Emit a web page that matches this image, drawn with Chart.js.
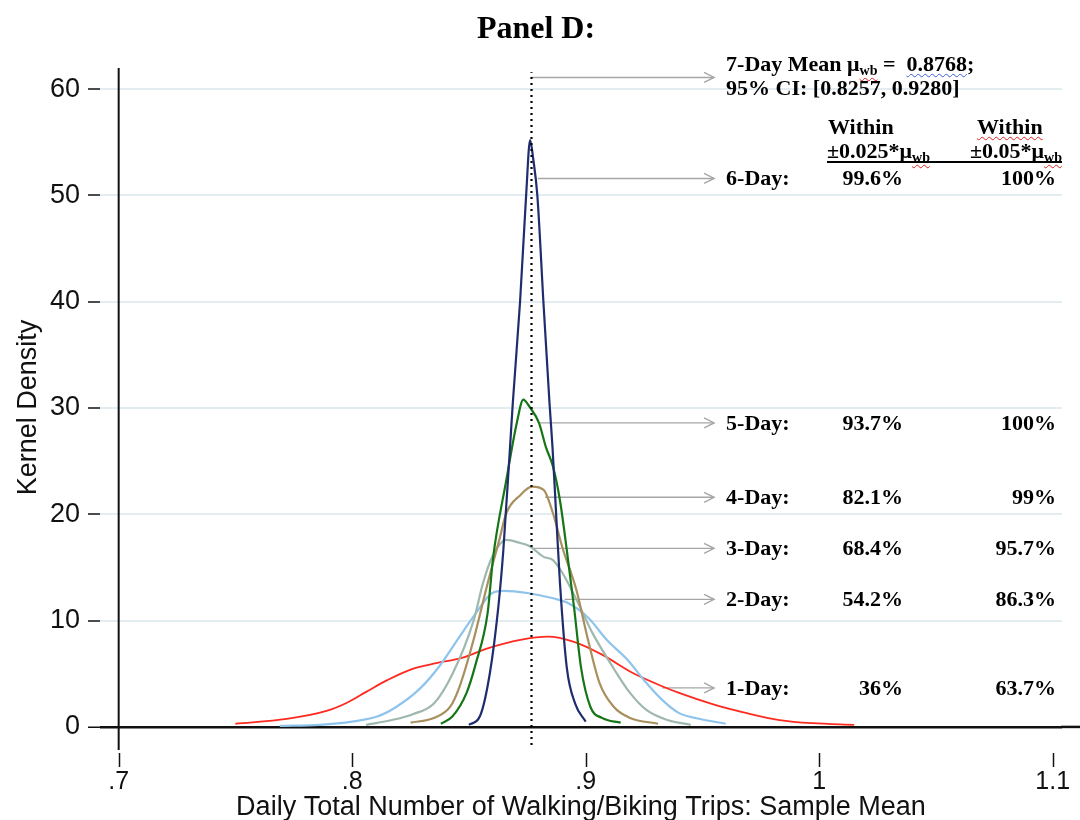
<!DOCTYPE html>
<html>
<head>
<meta charset="utf-8">
<script src="https://cdn.jsdelivr.net/npm/chart.js@4.4.0/dist/chart.umd.min.js"></script>
<style>
    html, body { margin: 0; padding: 0; background: #fff; }
    #wrap { position: relative; width: 1080px; height: 820px; }
    .t {
        position: absolute;
        font-family: "Liberation Serif", "Times New Roman", serif;
        font-weight: bold;
        font-size: 22px;
        color: #000;
        white-space: nowrap;
        line-height: 1;
        transform: translateY(-50%);
    }
    .r { transform: translate(-100%, -50%); }
    .title { font-size: 32px; transform: translate(-50%, -50%); }
    sub { font-size: 14px; vertical-align: -4px; line-height: 0; }
    .sp { text-decoration: underline wavy #e02020; text-decoration-thickness: 1px; text-underline-offset: 2px; }
    .sb { text-decoration: underline wavy #3a5ae0; text-decoration-thickness: 1px; text-underline-offset: 2px; }
    #rule { position: absolute; left: 827px; top: 161px; width: 235px; border-top: 2px solid #000; }
</style>
</head>
<body>
<div id="wrap">
    <canvas id="kd" width="1080" height="820"></canvas>
    <div class="t title" style="left:536px; top:27px;">Panel D:</div>
    <div class="t" id="meanLine1">7-Day Mean μ<sub class="sp">wb</sub> =&nbsp; <span class="sb">0.8768</span>;</div>
    <div class="t" id="meanLine2">95% CI: [0.8257, 0.9280]</div>
    <div class="t" style="left:828px; top:127px;">Within</div>
    <div class="t" style="left:977px; top:127px;"><span class="sp">Within</span></div>
    <div class="t" style="left:827px; top:151px;">±0.025*μ<sub class="sp">wb</sub></div>
    <div class="t" style="left:970px; top:151px;">±0.05*μ<sub class="sp">wb</sub></div>
    <div id="rule"></div>
    <div id="rows"></div>
</div>
<script>
// x grid / tick labels (Stata style, no leading zero)
const xTickValues = [0.7, 0.8, 0.9, 1.0, 1.1];
const xTickLabels = ['.7', '.8', '.9', '1', '1.1'];
const yTickValues = [0, 10, 20, 30, 40, 50, 60];

// kernel density curves
const day1X = [0.750, 0.772, 0.789, 0.798, 0.806, 0.815, 0.825, 0.836, 0.847, 0.858, 0.872, 0.884, 0.895, 0.907, 0.920, 0.932, 0.940, 0.955, 0.969, 0.983, 0.997, 1.015];
const day1Y = [0.3, 0.75, 1.5, 2.3, 3.3, 4.4, 5.4, 6.0, 6.5, 7.4, 8.2, 8.5, 8.0, 6.8, 5.1, 3.9, 3.2, 2.1, 1.3, 0.65, 0.35, 0.2];

const day2X = [0.769, 0.786, 0.800, 0.811, 0.819, 0.829, 0.838, 0.846, 0.853, 0.860, 0.865, 0.875, 0.886, 0.892, 0.901, 0.909, 0.918, 0.925, 0.933, 0.940, 0.949, 0.960];
const day2Y = [0.1, 0.2, 0.5, 1.0, 1.9, 3.6, 5.9, 8.5, 10.7, 12.6, 12.8, 12.6, 12.1, 11.7, 10.3, 8.2, 6.3, 4.4, 2.5, 1.3, 0.75, 0.3];

const day3X = [0.806, 0.817, 0.826, 0.835, 0.843, 0.852, 0.856, 0.860, 0.866, 0.872, 0.876, 0.882, 0.886, 0.890, 0.896, 0.903, 0.912, 0.919, 0.926, 0.935, 0.945];
const day3Y = [0.2, 0.65, 1.2, 2.2, 5.0, 10.0, 13.5, 16.0, 17.6, 17.3, 17.0, 16.0, 15.7, 14.5, 12.0, 8.8, 5.5, 3.2, 1.6, 0.65, 0.2];

const day4X = [0.825, 0.835, 0.842, 0.846, 0.852, 0.858, 0.863, 0.866, 0.872, 0.877, 0.882, 0.886, 0.890, 0.896, 0.901, 0.906, 0.912, 0.919, 0.931];
const day4Y = [0.4, 0.85, 1.9, 3.8, 8.2, 13.5, 17.6, 20.1, 21.8, 22.6, 22.3, 20.1, 16.9, 12.9, 8.2, 4.1, 1.9, 0.85, 0.3];

const day5X = [0.838, 0.843, 0.849, 0.853, 0.858, 0.8604, 0.866, 0.8705, 0.8733, 0.876, 0.880, 0.883, 0.886, 0.889, 0.892, 0.895, 0.898, 0.902, 0.907, 0.915];
const day5Y = [0.3, 1.0, 3.2, 6.0, 10.7, 16.0, 23.2, 28.6, 30.8, 30.1, 28.6, 26.3, 24.5, 21.3, 16.5, 11.3, 5.6, 1.9, 0.85, 0.4];

const day6X = [0.850, 0.8547, 0.859, 0.8626, 0.8647, 0.8676, 0.8688, 0.8719, 0.8745, 0.8762, 0.8775, 0.8793, 0.8819, 0.8845, 0.8858, 0.8876, 0.889, 0.8919, 0.8955, 0.900];
const day6Y = [0.2, 1.0, 5.1, 11.3, 16.5, 26.3, 30.5, 40.0, 50.0, 55.2, 53.5, 50.0, 40.0, 30.5, 26.3, 19.0, 13.5, 5.6, 2.2, 0.5];

// 7-day mean and the annotation table
const meanValue = 0.8768;
const meanArrowY = 61.1;
const dayLabels = ['1-Day:', '2-Day:', '3-Day:', '4-Day:', '5-Day:', '6-Day:'];
const within025 = ['36%', '54.2%', '68.4%', '82.1%', '93.7%', '99.6%'];
const within05 = ['63.7%', '86.3%', '95.7%', '99%', '100%', '100%'];
const arrowStartX = [0.9327, 0.891, 0.877, 0.8826, 0.8805, 0.8795];
const arrowY = [3.67, 12.0, 16.8, 21.6, 28.6, 51.6];
const arrowEndX = 0.955;

const seriesColors = ['#ff2a1f', '#8ec4ec', '#9fb8ae', '#a88f5e', '#167516', '#1f2d6e'];
const gridColor = '#e3ecf1';
const arrowColor = '#a6a6a6';

const toPoints = (xs, ys) => xs.map((x, i) => ({ x: x, y: ys[i] }));

const curveX = [day1X, day2X, day3X, day4X, day5X, day6X];
const curveY = [day1Y, day2Y, day3Y, day4Y, day5Y, day6Y];

const datasets = [];

curveX.forEach((xs, i) => {
    datasets.push({
        label: dayLabels[i],
        data: toPoints(xs, curveY[i]),
        borderColor: seriesColors[i],
        borderWidth: i === 0 ? 1.8 : 2.2,
        pointRadius: 0,
        cubicInterpolationMode: 'monotone',
        order: 10 - i
    });
});

// dotted vertical line at the 7-day mean
datasets.push({
    label: 'mean',
    data: [{ x: meanValue, y: -1.7 }, { x: meanValue, y: 61.6 }],
    borderColor: '#000',
    borderWidth: 2.2,
    borderDash: [2, 4],
    pointRadius: 0,
    order: 0
});

// arrows pointing into the table
datasets.push({
    label: 'meanArrow',
    data: [{ x: meanValue, y: meanArrowY }, { x: arrowEndX, y: meanArrowY }],
    borderColor: arrowColor,
    borderWidth: 1.4,
    pointRadius: 0,
    arrow: true,
    order: 20
});
arrowStartX.forEach((x0, i) => {
    datasets.push({
        label: 'arrow' + i,
        data: [{ x: x0, y: arrowY[i] }, { x: arrowEndX, y: arrowY[i] }],
        borderColor: arrowColor,
        borderWidth: 1.4,
        pointRadius: 0,
        arrow: true,
        order: 20
    });
});

// y axis line at x = .7, zero line, detached x ticks, arrowheads
const axisPlugin = {
    id: 'axisPlugin',
    afterDatasetsDraw(chart) {
        const { ctx, chartArea, scales } = chart;
        const px = scales.x.getPixelForValue(xTickValues[0]);
        const py0 = scales.y.getPixelForValue(0);
        ctx.save();
        ctx.strokeStyle = '#111';
        ctx.lineWidth = 2;
        ctx.beginPath();
        ctx.moveTo(px, chartArea.top - 2);
        ctx.lineTo(px, chartArea.bottom + 5);
        ctx.stroke();

        ctx.lineWidth = 2.5;
        ctx.beginPath();
        ctx.moveTo(chartArea.right - 1, py0);
        ctx.lineTo(chart.width, py0);
        ctx.stroke();

        ctx.lineWidth = 1.5;
        xTickValues.forEach(v => {
            const tx = Math.round(scales.x.getPixelForValue(v)) + 0.5;
            ctx.beginPath();
            ctx.moveTo(tx, chartArea.bottom + 8);
            ctx.lineTo(tx, chartArea.bottom + 22);
            ctx.stroke();
        });

        chart.data.datasets.forEach((ds, i) => {
            if (!ds.arrow) return;
            const pts = chart.getDatasetMeta(i).data;
            const end = pts[pts.length - 1];
            ctx.strokeStyle = ds.borderColor;
            ctx.lineWidth = 1.4;
            ctx.beginPath();
            ctx.moveTo(end.x - 10, end.y - 5);
            ctx.lineTo(end.x, end.y);
            ctx.lineTo(end.x - 10, end.y + 5);
            ctx.stroke();
        });
        ctx.restore();
    }
};

const chart = new Chart(document.getElementById('kd').getContext('2d'), {
    type: 'line',
    data: { datasets: datasets },
    options: {
        responsive: false,
        animation: false,
        devicePixelRatio: 1,
        layout: { padding: { top: 70, right: 18, left: 0, bottom: 0 } },
        plugins: {
            legend: { display: false },
            tooltip: { enabled: false }
        },
        scales: {
            x: {
                type: 'linear',
                min: 0.692,
                max: 1.104,
                afterBuildTicks: s => { s.ticks = xTickValues.map(v => ({ value: v })); },
                afterFit: s => { s.height = 75; },
                border: { display: false },
                grid: { drawOnChartArea: false, tickLength: 22, tickColor: 'rgba(0,0,0,0)' },
                ticks: {
                    padding: 0,
                    color: '#111',
                    font: { family: "'Liberation Sans', Arial, sans-serif", size: 25 },
                    maxRotation: 0,
                    autoSkip: false,
                    callback: (v, i) => xTickLabels[i]
                },
                title: {
                    display: true,
                    text: 'Daily Total Number of Walking/Biking Trips: Sample Mean',
                    color: '#111',
                    font: { family: "'Liberation Sans', Arial, sans-serif", size: 27 },
                    padding: { top: 0, bottom: -4 }
                }
            },
            y: {
                min: -1.7,
                max: 61.8,
                afterBuildTicks: s => { s.ticks = yTickValues.map(v => ({ value: v })); },
                afterFit: s => { s.width = 100; },
                border: { display: false },
                grid: {
                    color: c => c.tick && c.tick.value === 0 ? '#111' : gridColor,
                    lineWidth: c => c.tick && c.tick.value === 0 ? 2.5 : 2,
                    tickLength: 12,
                    tickColor: '#111',
                    tickWidth: 1.5
                },
                ticks: { padding: 8, color: '#111', font: { family: "'Liberation Sans', Arial, sans-serif", size: 27 } },
                title: {
                    display: true,
                    text: 'Kernel Density',
                    color: '#111',
                    font: { family: "'Liberation Sans', Arial, sans-serif", size: 27 },
                    padding: { top: 12, bottom: 0 }
                }
            }
        }
    },
    plugins: [axisPlugin]
});

// place the table text at the arrow heights
function placeTable() {
    const xs = chart.scales.x, ys = chart.scales.y;
    const labelLeft = xs.getPixelForValue(arrowEndX) + 12;
    const rows = document.getElementById('rows');

    const m1 = document.getElementById('meanLine1');
    const m2 = document.getElementById('meanLine2');
    const mTop = ys.getPixelForValue(meanArrowY);
    m1.style.left = labelLeft + 'px';
    m1.style.top = (mTop - 13) + 'px';
    m2.style.left = labelLeft + 'px';
    m2.style.top = (mTop + 11) + 'px';

    dayLabels.forEach((lab, i) => {
        const top = ys.getPixelForValue(arrowY[i]);
        const cells = [
            { text: lab, left: labelLeft, cls: 't' },
            { text: within025[i], left: 903, cls: 't r' },
            { text: within05[i], left: 1056, cls: 't r' }
        ];
        cells.forEach(c => {
            const div = document.createElement('div');
            div.className = c.cls;
            div.textContent = c.text;
            div.style.left = c.left + 'px';
            div.style.top = top + 'px';
            rows.appendChild(div);
        });
    });
}

placeTable();
</script>
</body>
</html>
